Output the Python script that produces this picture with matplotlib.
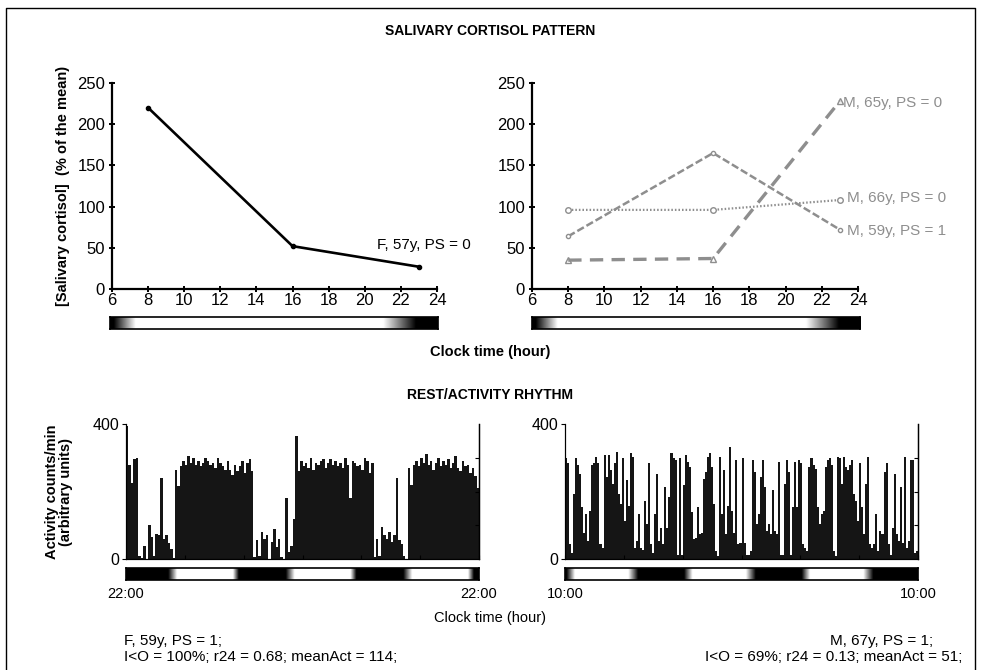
import numpy as np
import matplotlib
matplotlib.use('Agg')
from matplotlib import pyplot as plt
from matplotlib.lines import Line2D

plt.rcParams['font.family'] = ['Liberation Sans', 'DejaVu Sans']
plt.rcParams['font.size'] = 11

# salivary cortisol (% of the mean) at sampling clock times
sample_hours = [8, 16, 23]
f57 = [220, 52, 27]
m65 = [35, 37, 228]
m66 = [96, 96, 108]
m59 = [64, 165, 72]

# rest/activity, 72 h from 22:00 (F, 59y) - 30 min bins
act_f59 = [395, 280, 225, 295, 300,
           8, 2, 40, 0, 100, 65, 10, 75, 70, 240, 60, 70, 48, 30, 2,
           265, 215, 275, 290, 280, 305, 285, 300, 280, 290, 275, 285, 300, 290, 280, 285,
           270, 300, 285, 275, 265, 290, 265, 250, 280, 260, 275, 290, 255, 285, 295, 260,
           5, 55, 10, 80, 60, 70, 0, 50, 90, 35, 60, 5, 0, 180, 20, 40, 120,
           365, 260, 290, 275, 285, 270, 300, 265, 285, 280, 290, 295, 270, 285, 295, 280,
           290, 275, 285, 270, 300, 280, 180, 290, 285, 275, 280, 265, 300, 290, 255, 285,
           5, 60, 10, 95, 70, 60, 80, 50, 70, 240, 55, 45, 10, 0,
           270, 220, 280, 290, 275, 300, 285, 310, 280, 290, 265, 285, 300, 275, 290,
           280, 295, 270, 285, 305, 270, 260, 290, 275, 280, 255, 270, 245, 210]

# rest/activity, 72 h from 10:00 (M, 67y)
act_m67 = [298, 283, 43, 18, 193, 298, 278, 253, 153, 78, 133, 53, 143, 278, 283, 303,
           283, 43, 33, 308, 243, 308, 263, 223, 283, 318, 193, 163, 298, 113, 233, 158,
           313, 303, 33, 53, 133, 33, 28, 173, 103, 283, 43, 18, 133, 253, 53, 93,
           43, 213, 93, 183, 313, 298, 293, 13,
           298, 13, 218, 308, 288, 273, 138, 58, 63, 153, 73, 78, 238, 258, 303, 313,
           273, 163, 23, 8, 303, 133, 263, 73, 158, 333, 143, 78, 293, 43, 48, 298,
           48, 13, 13, 23, 293, 258, 103, 133, 243, 293, 213, 83, 103, 73, 203, 83,
           73, 288, 13, 13, 223, 293, 258, 13, 153, 288,
           153, 293, 283, 43, 33, 23, 273, 298, 278, 268, 153, 103, 133, 143, 273, 293,
           298, 278, 23, 8, 303, 298, 223, 303, 273, 263, 278, 293, 193, 173, 113, 283,
           153, 73, 223, 303, 43, 33, 43, 133, 23, 83, 73, 258, 283, 43, 13, 93,
           253, 73, 53, 213, 48, 303, 33, 53, 293, 293, 18, 23]

# light/dark bar ramps, hours after panel start: (up start, up end, down start, down end)
ramps_top = (0.2, 1.4, 15.0, 16.8)
ramps_f59 = (8.6, 10.4, 21.8, 23.0)
ramps_m67 = (0.3, 2.0, 12.9, 14.9)

W, H = 981, 670
fig = plt.figure(figsize=(W / 100, H / 100), dpi=100)


def box(x0, y0, x1, y1):
    # pixel box (top-left origin) -> figure fraction rect
    return [x0 / W, 1 - y1 / H, (x1 - x0) / W, (y1 - y0) / H]


def light_bar(rect, span, ramps):
    ax = fig.add_axes(box(*rect))
    t = np.linspace(0, span, 1000)
    u0, u1, d0, d1 = ramps
    lum = np.interp(t % 24, [0, u0, u1, d0, d1, 24], [0, 0, 1, 1, 0, 0])
    ax.imshow(lum[None, :], aspect='auto', cmap='gray', vmin=0, vmax=1,
              extent=[0, span, 0, 1], interpolation='bilinear')
    ax.set_xticks([])
    ax.set_yticks([])
    for s in ax.spines.values():
        s.set_linewidth(1.2)
    return ax


# frame (left, top, right)
fx = [6 / W, 6 / W, 975 / W, 975 / W]
fy = [0, 1 - 8 / H, 1 - 8 / H, 0]
fig.lines.append(Line2D(fx, fy, transform=fig.transFigure, color='black', lw=1.0))

fig.text(490 / W, 1 - 31 / H, 'SALIVARY CORTISOL PATTERN', ha='center', va='center',
         fontweight='bold', fontsize=10)
fig.text(490 / W, 1 - 352 / H, 'Clock time (hour)', ha='center', va='center',
         fontweight='bold', fontsize=10.5)
fig.text(490 / W, 1 - 395 / H, 'REST/ACTIVITY RHYTHM', ha='center', va='center',
         fontweight='bold', fontsize=10)
fig.text(490 / W, 1 - 618 / H, 'Clock time (hour)', ha='center', va='center', fontsize=10.5)


def cortisol_axes(x0, x1):
    ax = fig.add_axes(box(x0, 83, x1, 289))
    ax.set_xlim(6, 24)
    ax.set_ylim(0, 250)
    ax.set_xticks(range(6, 25, 2))
    ax.set_yticks(range(0, 251, 50))
    ax.spines['top'].set_visible(False)
    ax.spines['right'].set_visible(False)
    ax.spines['left'].set_linewidth(1.6)
    ax.spines['bottom'].set_linewidth(1.6)
    ax.tick_params(direction='inout', length=4, width=1.4, labelsize=12)
    ax.tick_params(axis='x', pad=1)
    ax.tick_params(axis='y', pad=3)
    return ax


ax1 = cortisol_axes(112, 437)
ax1.plot(sample_hours, f57, color='black', lw=1.9, marker='o', ms=3)
ax1.text(20.7, 53, 'F, 57y, PS = 0', fontsize=11, va='center', clip_on=False)
ax1.set_ylabel('[Salivary cortisol]  (% of the mean)', fontweight='bold', fontsize=10.5,
               labelpad=5)

grey = '#8e8e8e'
ax2 = cortisol_axes(532, 858)
ax2.plot(sample_hours, m65, color=grey, lw=2.4, ls=(0, (4, 2.5)), marker='^', ms=4,
         mfc='none', mew=1)
ax2.plot(sample_hours, m66, color=grey, lw=1.6, ls=(0, (0.7, 0.9)), marker='o', ms=4,
         mfc='white', mew=1)
ax2.plot(sample_hours, m59, color=grey, lw=1.8, ls=(0, (3, 1.2)), marker='o', ms=3,
         mfc='white', mew=1)
ax2.text(23.15, 226, 'M, 65y, PS = 0', color=grey, fontsize=11, va='center',
         clip_on=False)
ax2.text(23.4, 110, 'M, 66y, PS = 0', color=grey, fontsize=11, va='center',
         clip_on=False)
ax2.text(23.4, 70, 'M, 59y, PS = 1', color=grey, fontsize=11, va='center',
         clip_on=False)

light_bar((110, 317, 438, 329), 18, ramps_top)
light_bar((532, 317, 860, 329), 18, ramps_top)


def activity_axes(x0, x1, values, start_label):
    ax = fig.add_axes(box(x0, 424, x1, 559))
    n = len(values)
    t = (np.arange(n) + 0.5) * 72 / n
    ax.bar(t, values, width=72 / n, color='#151515', lw=0)
    ax.set_xlim(0, 72)
    ax.set_ylim(0, 400)
    ax.set_yticks([0, 400])
    ax.set_xticks(range(0, 73, 12))
    ax.set_xticklabels([])
    ax.spines['top'].set_visible(False)
    ax.spines['right'].set_linewidth(1.0)
    ax.tick_params(axis='y', direction='out', length=3, labelsize=11.5, pad=2)
    ax.tick_params(axis='x', direction='in', length=3)
    ax.text(0, -0.26, start_label, transform=ax.transAxes, ha='center', va='center',
            fontsize=10.5)
    ax.text(1, -0.26, start_label, transform=ax.transAxes, ha='center', va='center',
            fontsize=10.5)
    rax = ax.twinx()
    rax.set_ylim(0, 400)
    rax.set_yticks([100, 200, 300])
    rax.set_yticklabels([])
    rax.tick_params(direction='in', length=3)
    rax.spines['top'].set_visible(False)
    return ax


ax3 = activity_axes(126, 479, act_f59, '22:00')
ax3.set_ylabel('Activity counts/min\n(arbitrary units)', fontweight='bold', fontsize=10.5,
               labelpad=14, linespacing=1.0)
ax4 = activity_axes(565, 918, act_m67, '10:00')

light_bar((126, 568, 479, 580), 72, ramps_f59)
light_bar((565, 568, 918, 580), 72, ramps_m67)

fig.text(124 / W, 1 - 641 / H, 'F, 59y, PS = 1;', fontsize=11, va='center')
fig.text(124 / W, 1 - 657 / H, 'I<O = 100%; r24 = 0.68; meanAct = 114;', fontsize=11,
         va='center')
fig.text(933 / W, 1 - 641 / H, 'M, 67y, PS = 1;', fontsize=11, va='center', ha='right')
fig.text(962 / W, 1 - 657 / H, 'I<O = 69%; r24 = 0.13; meanAct = 51;', fontsize=11,
         va='center', ha='right')

fig.savefig('out.png', dpi=100)
